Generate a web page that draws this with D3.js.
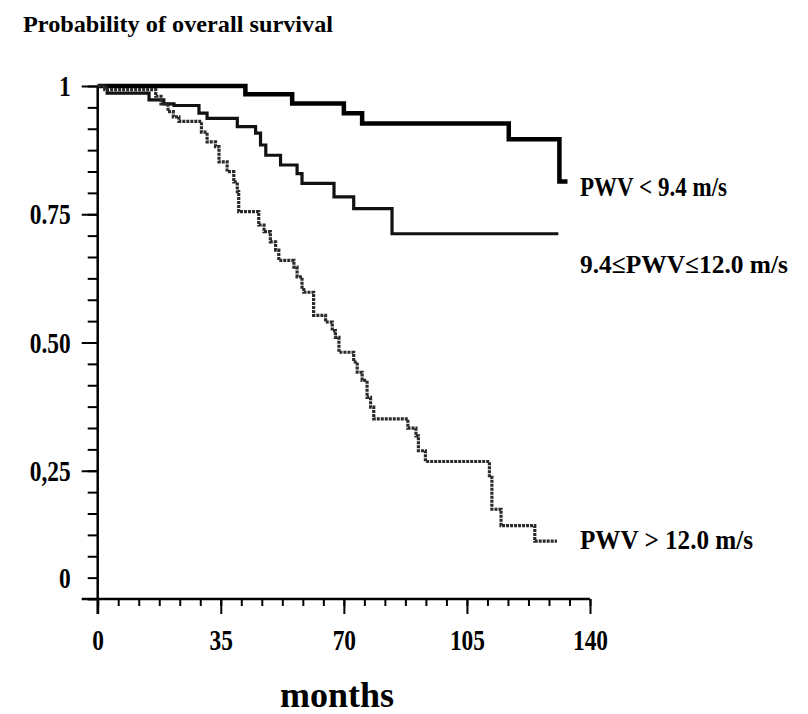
<!DOCTYPE html>
<html>
<head>
<meta charset="utf-8">
<script src="https://cdn.jsdelivr.net/npm/d3@7"></script>
<style>
  body { margin: 0; background: #fff; }
  text { font-family: "Liberation Serif", "Times New Roman", serif; font-weight: bold; fill: #000; }
</style>
</head>
<body>
<div class="svg-container"></div>
<script>
// survival steps: month of each drop and survival after it (last point = end of follow-up)
const lowMonths = [0, 42, 55.3, 70, 75.2, 116.9, 131.3, 133.6];
const lowSurv   = [1, 0.984, 0.966, 0.947, 0.927, 0.896, 0.814, 0.814];

const midMonths = [0, 2.7, 14.6, 18.8, 21.7, 28.8, 31.1, 39.7, 44.9, 46.3, 47.8, 52.0, 56.7, 58.1, 67.2, 72.8, 83.7, 131];
const midSurv   = [1, 0.986, 0.973, 0.965, 0.962, 0.947, 0.937, 0.921, 0.908, 0.885, 0.865, 0.846, 0.829, 0.810, 0.784, 0.761, 0.712, 0.712];

const highMonths = [0, 2, 16.5, 18, 20, 21.5, 23.1, 29.5, 31.1, 33.5, 34.5, 36.8, 38.7, 39.7, 40.1, 45.8, 47.3, 49.1, 50.6, 51.5,
  55.8, 56.7, 58.1, 58.6, 61.4, 64.8, 66.7, 67.6, 68.6, 72.8, 73.8, 75.2, 76.6, 77.6, 78.5, 88.2, 90.5, 91.2, 93.2,
  111.4, 112.1, 114.7, 124.3, 130.6];
const highSurv = [1, 0.993, 0.98, 0.965, 0.95, 0.94, 0.931, 0.91, 0.891, 0.882, 0.852, 0.833, 0.813, 0.794, 0.755, 0.729, 0.716, 0.696, 0.680, 0.660,
  0.647, 0.628, 0.608, 0.598, 0.553, 0.540, 0.523, 0.510, 0.481, 0.462, 0.442, 0.426, 0.393, 0.374, 0.351, 0.333, 0.318, 0.289, 0.268,
  0.237, 0.175, 0.143, 0.113, 0.113];

const groupNames = ["PWV < 9.4 m/s", "9.4\u2264PWV\u226412.0 m/s", "PWV > 12.0 m/s"];

const xTicks = [0, 35, 70, 105, 140];
const yMajor = [0.25, 0.5, 0.75, 1];
const yMajorLabels = ["0,25", "0.50", "0.75", "1"];

const width = 808, height = 714;

const svg = d3.select(".svg-container")
  .append("svg")
  .attr("width", width)
  .attr("height", height);

const x = d3.scaleLinear().domain([0, 140]).range([97.7, 590]);
const y = d3.scaleLinear().domain([0, 1]).range([599, 86]);

// AXES ///////////////////////////////
const xMinor = d3.axisBottom(x)
  .tickValues(d3.range(25).map(i => i * 35 / 6))
  .tickSize(7)
  .tickFormat("");
svg.append("g")
  .attr("transform", "translate(0," + y(0) + ")")
  .call(xMinor)
  .call(g => g.select(".domain").remove());

const xAxis = d3.axisBottom(x)
  .tickValues(xTicks)
  .tickSize(15)
  .tickPadding(15);
svg.append("g")
  .attr("id", "x-axis")
  .attr("transform", "translate(0," + y(0) + ")")
  .call(xAxis)
  .call(g => g.select(".domain").remove())
  .call(g => g.selectAll("text")
    .style("font-size", "30px")
    .attr("transform", "scale(0.78,1)"));

const yMinor = d3.axisLeft(y)
  .tickValues(d3.range(25).map(i => i / 24))
  .tickSize(10)
  .tickFormat((d, i) => i === 1 ? "0" : "");
svg.append("g")
  .attr("transform", "translate(" + x(0) + ",0)")
  .call(yMinor)
  .call(g => g.select(".domain").remove())
  .call(g => g.selectAll("text")
    .attr("x", 0)
    .style("font-size", "30px")
    .attr("transform", "translate(-27,0) scale(0.78,1)"));

const yAxis = d3.axisLeft(y)
  .tickValues(yMajor)
  .tickSize(16)
  .tickFormat((d, i) => yMajorLabels[i]);
svg.append("g")
  .attr("id", "y-axis")
  .attr("transform", "translate(" + x(0) + ",0)")
  .call(yAxis)
  .call(g => g.select(".domain").remove())
  .call(g => g.selectAll("text")
    .attr("x", 0)
    .style("font-size", "30px")
    .attr("transform", "translate(-27,0) scale(0.78,1)"));

svg.selectAll(".tick line").attr("stroke", "#000").attr("stroke-width", 2);

// axis lines
svg.append("line")
  .attr("x1", x(0) - 16).attr("x2", x(140))
  .attr("y1", y(0)).attr("y2", y(0))
  .attr("stroke", "#000").attr("stroke-width", 2.5);
svg.append("line")
  .attr("x1", x(0)).attr("x2", x(0))
  .attr("y1", y(1)).attr("y2", y(0) + 15)
  .attr("stroke", "#000").attr("stroke-width", 2.5);

// CURVES ///////////////////////////////
const line = d3.line()
  .x(d => x(d[0]))
  .y(d => y(d[1]))
  .curve(d3.curveStepAfter);

const curves = [
  { months: lowMonths, surv: lowSurv, color: "#000", w: 4.5, dash: null },
  { months: midMonths, surv: midSurv, color: "#111", w: 3.2, dash: null },
  { months: highMonths, surv: highSurv, color: "#2a2a2a", w: 3.2, dash: "3 1" }
];

svg.selectAll(".curve")
  .data(curves)
  .enter()
  .append("path")
  .attr("class", "curve")
  .attr("fill", "none")
  .attr("stroke", d => d.color)
  .attr("stroke-width", d => d.w)
  .attr("stroke-dasharray", d => d.dash)
  .attr("d", d => line(d.months.map((m, i) => [m, d.surv[i]])));

// LABELS ///////////////////////////////
const labelPos = [[580, 196, 147, 28], [580, 273, 208, 26], [580, 549, 173, 28]];
svg.selectAll(".group-label")
  .data(groupNames)
  .enter()
  .append("text")
  .attr("class", "group-label")
  .attr("x", (d, i) => labelPos[i][0])
  .attr("y", (d, i) => labelPos[i][1])
  .attr("textLength", (d, i) => labelPos[i][2])
  .attr("lengthAdjust", "spacingAndGlyphs")
  .style("font-size", (d, i) => labelPos[i][3] + "px")
  .text(d => d);

svg.append("text")
  .attr("x", 23)
  .attr("y", 32)
  .attr("textLength", 310)
  .attr("lengthAdjust", "spacingAndGlyphs")
  .style("font-size", "24px")
  .text("Probability of overall survival");

svg.append("text")
  .attr("x", 337)
  .attr("y", 707)
  .attr("text-anchor", "middle")
  .style("font-size", "36px")
  .text("months");
</script>
</body>
</html>
